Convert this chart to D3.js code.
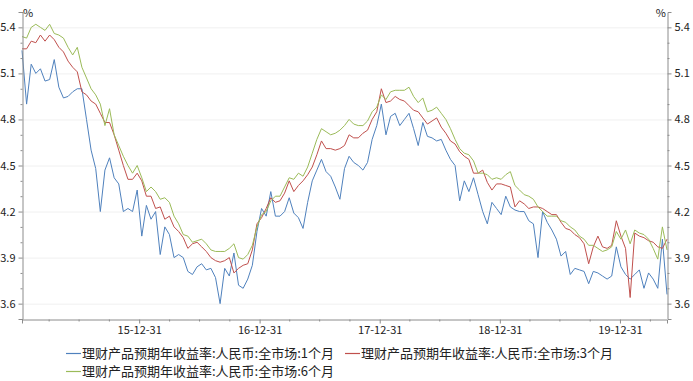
<!DOCTYPE html>
<html><head><meta charset="utf-8">
<script src="https://cdn.jsdelivr.net/npm/d3@7/dist/d3.min.js"></script>
<style>
html,body{margin:0;padding:0;background:#fff;}
svg{display:block;}
text{font-family:"Noto Sans CJK SC","Noto Sans",sans-serif;fill:#222;}
</style></head>
<body><svg id="c" width="693" height="381"></svg>
<script>
// ---- data ----
const startDate = "2015-01-09";   // first observation
const stepDays = 14;              // sampling step of the series
const seriesNames = [
  "理财产品预期年收益率:人民币:全市场:1个月",
  "理财产品预期年收益率:人民币:全市场:3个月",
  "理财产品预期年收益率:人民币:全市场:6个月"
];
const m1 = [
5.25,4.90,5.16,5.10,5.13,5.05,5.06,5.19,5.01,4.94,4.95,4.98,5.00,5.00,4.80,4.60,4.48,4.20,4.47,4.55,4.42,4.38,4.20,4.22,4.20,4.34,4.04,4.24,
4.15,4.20,3.92,4.10,4.05,3.90,3.92,3.90,3.81,3.79,3.84,3.86,3.82,3.83,3.77,3.60,3.83,3.78,3.93,3.72,3.70,3.76,3.85,4.07,4.22,4.17,4.33,4.17,
4.17,4.20,4.29,4.19,4.16,4.09,4.26,4.40,4.47,4.54,4.46,4.43,4.36,4.28,4.48,4.56,4.52,4.50,4.47,4.52,4.67,4.76,4.90,4.70,4.82,4.84,4.76,4.80,
4.84,4.74,4.63,4.78,4.69,4.68,4.66,4.67,4.60,4.54,4.50,4.27,4.40,4.33,4.42,4.31,4.20,4.12,4.26,4.22,4.18,4.30,4.23,4.21,4.20,4.20,4.14,4.12,
3.90,4.20,4.13,4.08,4.02,3.91,3.94,3.79,3.83,3.82,3.81,3.73,3.81,3.80,3.78,3.76,3.78,3.97,3.84,3.79,3.76,3.79,3.82,3.70,3.80,3.76,3.70,4.02,3.66
];
const m3 = [
5.26,5.26,5.31,5.30,5.35,5.31,5.35,5.32,5.27,5.24,5.18,5.14,5.11,4.98,4.96,4.92,4.90,4.84,4.78,4.78,4.70,4.60,4.50,4.41,4.41,4.45,4.40,4.30,
4.30,4.22,4.23,4.15,4.17,4.10,4.07,4.03,3.96,3.99,4.00,3.97,3.94,3.90,3.88,3.87,3.88,3.90,3.80,3.83,3.85,3.86,3.95,4.12,4.16,4.22,4.29,4.26,
4.27,4.32,4.40,4.33,4.37,4.40,4.44,4.49,4.57,4.66,4.61,4.61,4.60,4.61,4.63,4.70,4.68,4.68,4.71,4.73,4.80,4.85,5.00,4.91,4.92,4.95,4.93,4.92,
4.89,4.86,4.85,4.81,4.77,4.79,4.81,4.75,4.71,4.66,4.64,4.59,4.56,4.54,4.45,4.45,4.47,4.39,4.34,4.38,4.38,4.37,4.36,4.23,4.27,4.25,4.22,4.23,
4.23,4.22,4.20,4.18,4.18,4.13,4.09,4.08,4.05,4.03,3.99,3.86,3.97,4.04,3.97,3.96,3.98,4.14,4.04,3.96,3.64,4.06,4.04,4.03,4.01,4.00,3.97,3.96,4.02
];
const m6 = [
5.34,5.33,5.40,5.42,5.40,5.38,5.42,5.36,5.35,5.33,5.27,5.22,5.27,5.14,5.07,5.00,4.96,4.90,4.76,4.87,4.70,4.63,4.56,4.50,4.45,4.50,4.42,4.33,
4.36,4.33,4.28,4.29,4.26,4.17,4.12,4.05,4.04,4.00,4.01,4.02,3.99,3.95,3.94,3.94,3.94,3.96,3.99,3.90,3.89,3.92,3.98,4.10,4.18,4.20,4.27,4.30,
4.30,4.36,4.42,4.41,4.45,4.43,4.49,4.58,4.67,4.74,4.72,4.70,4.71,4.73,4.76,4.80,4.77,4.76,4.76,4.79,4.85,4.88,4.96,4.93,4.98,4.99,4.99,4.99,
5.01,4.95,4.91,4.94,4.85,4.86,4.88,4.84,4.80,4.74,4.67,4.61,4.58,4.57,4.53,4.45,4.45,4.44,4.41,4.42,4.41,4.44,4.46,4.37,4.34,4.31,4.30,4.28,
4.23,4.20,4.17,4.17,4.17,4.14,4.13,4.10,4.08,4.04,4.02,3.98,3.98,3.96,3.94,3.95,3.97,4.07,4.02,4.08,3.99,4.08,4.06,4.05,4.02,3.96,3.89,4.10,3.95
];
const yMajorTicks = [3.6, 3.9, 4.2, 4.5, 4.8, 5.1, 5.4];
const yMinorTicks = [3.7, 3.8, 4.0, 4.1, 4.3, 4.4, 4.6, 4.7, 4.9, 5.0, 5.2, 5.3];
const xMajorTicks = ["2015-12-31", "2016-12-31", "2017-12-31", "2018-12-31", "2019-12-31"];
const xMinorTicks = ["2015-03-31","2015-06-30","2015-09-30","2016-03-31","2016-06-30","2016-09-30",
  "2017-03-31","2017-06-30","2017-09-30","2018-03-31","2018-06-30","2018-09-30",
  "2019-03-31","2019-06-30","2019-09-30","2020-03-31"];
const colors = ["#4F81BD", "#C0504D", "#9BBB59"];

// ---- layout ----
const L = 22, R = 667, T = 12, B = 319;
const parse = d3.utcParse("%Y-%m-%d");
const t0 = parse(startDate);
const dates = m1.map((_, i) => d3.utcDay.offset(t0, i * stepDays));
const x = d3.scaleUtc().domain([dates[0], dates[dates.length - 1]]).range([L, R]);
const y = d3.scaleLinear().domain([3.5, 5.5]).range([B, T]);

const svg = d3.select("#c");
const axisColor = "#8c8c8c";

// grid
svg.append("g").selectAll("line").data(yMajorTicks).join("line")
  .attr("x1", L).attr("x2", R).attr("y1", d => y(d) + 0.5).attr("y2", d => y(d) + 0.5)
  .attr("stroke", "#f0f0f0").attr("stroke-width", 1);

// lines
const series = [m1, m3, m6];
const line = d3.line().x((d, i) => x(dates[i])).y(d => y(d));
series.forEach((s, k) => {
  svg.append("path").datum(s).attr("d", line)
    .attr("fill", "none").attr("stroke", colors[k]).attr("stroke-width", 1)
    .attr("stroke-linejoin", "round");
});

// left axis
const gl = svg.append("g").attr("transform", `translate(${L + 0.5},0)`)
  .call(d3.axisLeft(y).tickValues(yMajorTicks).tickFormat(d3.format(".1f")).tickSize(4).tickPadding(3));
gl.append("g").call(d3.axisLeft(y).tickValues(yMinorTicks).tickFormat("").tickSize(2))
  .call(g => g.select(".domain").remove());
// right axis
const gr = svg.append("g").attr("transform", `translate(${R + 0.5},0)`)
  .call(d3.axisRight(y).tickValues(yMajorTicks).tickFormat(d3.format(".1f")).tickSize(4).tickPadding(3));
gr.append("g").call(d3.axisRight(y).tickValues(yMinorTicks).tickFormat("").tickSize(2))
  .call(g => g.select(".domain").remove());
// bottom axis
const gb = svg.append("g").attr("transform", `translate(0,${B + 0.5})`)
  .call(d3.axisBottom(x).tickValues(xMajorTicks.map(parse)).tickFormat(d3.utcFormat("%y-%m-%d")).tickSize(4).tickPadding(3));
gb.append("g").call(d3.axisBottom(x).tickValues(xMinorTicks.map(parse)).tickFormat("").tickSize(2))
  .call(g => g.select(".domain").remove());

svg.selectAll(".domain").attr("stroke", axisColor);
svg.selectAll(".tick line").attr("stroke", axisColor);
svg.selectAll(".tick text").attr("font-size", 11).attr("fill", "#222")
  .attr("font-family", "\"Noto Sans CJK SC\",\"Noto Sans\",sans-serif");

// unit labels
svg.append("text").attr("x", L + 1).attr("y", 17).attr("font-size", 11).text("%");
svg.append("text").attr("x", R - 1).attr("y", 17).attr("font-size", 11).attr("text-anchor", "end").text("%");

// legend
const legendPos = [[66, 353], [345, 353], [66, 371]];
seriesNames.forEach((n, k) => {
  const [lx, ly] = legendPos[k];
  svg.append("line").attr("x1", lx).attr("x2", lx + 15).attr("y1", ly + 0.5).attr("y2", ly + 0.5)
    .attr("stroke", colors[k]).attr("stroke-width", 1.2);
  svg.append("text").attr("x", lx + 16).attr("y", ly).attr("dy", "0.36em")
    .attr("font-size", 13).text(n);
});
</script></body></html>
